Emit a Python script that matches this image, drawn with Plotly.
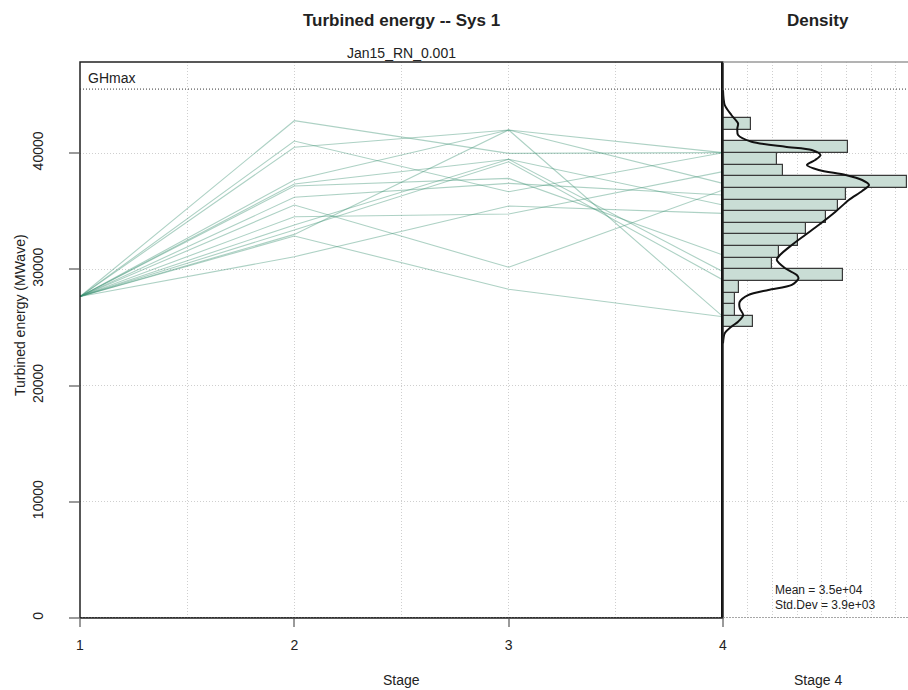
import plotly.graph_objects as go

# ---------------- data ----------------
stages = [1, 2, 3, 4]
scen_01 = [27650, 42780, 39970, 40030]
scen_02 = [27650, 41030, 36670, 40030]
scen_03 = [27650, 40490, 41980, 40030]
scen_04 = [27650, 37680, 41980, 37390]
scen_05 = [27650, 37330, 39460, 35530]
scen_06 = [27650, 37160, 37820, 31230]
scen_07 = [27650, 36190, 37390, 36390]
scen_08 = [27650, 35530, 30170, 36820]
scen_09 = [27650, 34520, 34750, 38400]
scen_10 = [27650, 33810, 39460, 29790]
scen_11 = [27650, 33380, 39250, 29080]
scen_12 = [27650, 32860, 28280, 25920]
scen_13 = [27650, 31080, 35440, 34810]
scen_14 = [27650, 33000, 41980, 25920]
scenarios = [scen_01, scen_02, scen_03, scen_04, scen_05, scen_06, scen_07,
             scen_08, scen_09, scen_10, scen_11, scen_12, scen_13, scen_14]

ghmax = 45500
ghmin = 0

# histogram of stage 4 (bin lower edges, bin width, density)
hist_lo = [25000, 26000, 27000, 28000, 29000, 30000, 31000, 32000, 33000,
           34000, 35000, 36000, 37000, 38000, 39000, 40000, 41000, 42000]
hist_width = 1000
hist_dens = [1.22, 0.48, 0.48, 0.64, 4.86, 1.97, 2.29, 3.06, 3.36,
             4.18, 4.67, 4.97, 7.44, 2.42, 2.18, 5.07, 0.0, 1.13]

# kernel density curve
dens_x = [0.0, 0.07, 0.34, 0.61, 0.58, 0.61, 1.16, 2.52, 3.60, 3.95, 3.74, 3.40,
          3.88, 4.97, 5.64, 5.92, 5.64, 5.10, 4.56, 3.88, 3.33, 2.79, 2.31, 2.18,
          2.52, 2.99, 3.06, 2.79, 1.84, 1.02, 0.68, 0.68, 0.82, 0.61, 0.34, 0.07, 0.0]
dens_y = [45400, 44130, 43270, 42550, 42120, 41550, 40970, 40540, 40260, 39830, 39400, 38970,
          38540, 38110, 37680, 37250, 36730, 35960, 34950, 33810, 32950, 32090, 31230, 30800,
          30080, 29510, 29220, 28650, 28220, 27780, 27210, 26640, 26060, 25490, 25060, 24490, 23630]

y_range = [0, 47830]
y_ticks = [0, 10000, 20000, 30000, 40000]
y_tick_labels = ["0", "10000", "20000", "30000", "40000"]
x_ticks = [1, 2, 3, 4]
x_tick_labels = ["1", "2", "3", "4"]
dens_range = [0, 7.5]

title_main = "Turbined energy -- Sys 1"
title_dens = "Density"
subtitle = "Jan15_RN_0.001"
ylab = "Turbined energy (MWave)"
xlab = "Stage"
xlab_dens = "Stage 4"
mean_txt = "Mean = 3.5e+04"
std_txt = "Std.Dev = 3.9e+03"

# ---------------- layout geometry ----------------
W, H = 908, 690
def px(x):
    return x / W
def py(y):
    return 1 - y / H

xL0, xL1 = px(80), px(723)
xR0, xR1 = px(723), 1.0
yB, yT = py(618), py(62)

FONT = "Liberation Sans, Arial, sans-serif"
line_col = "rgba(60,145,115,0.42)"
grid_col = "#cfcfcf"
GDASH = "1px,2px"

fig = go.Figure()

for s in scenarios:
    fig.add_trace(go.Scatter(x=stages, y=s, mode="lines",
                             line=dict(color=line_col, width=1.1),
                             xaxis="x", yaxis="y", showlegend=False,
                             hoverinfo="skip"))

hist_center = [lo + hist_width / 2 for lo in hist_lo]
fig.add_trace(go.Bar(x=hist_dens, y=hist_center, orientation="h",
                     width=[hist_width] * len(hist_lo), base=0,
                     marker=dict(color="#c9ddd5", line=dict(color="#3a3a3a", width=1.2)),
                     xaxis="x2", yaxis="y2", showlegend=False))

fig.add_trace(go.Scatter(x=dens_x, y=dens_y, mode="lines",
                         line=dict(color="#111111", width=2, shape="spline", smoothing=0.8),
                         xaxis="x2", yaxis="y2", showlegend=False))

fig.update_layout(
    width=W, height=H,
    margin=dict(l=0, r=0, t=0, b=0),
    paper_bgcolor="white", plot_bgcolor="white",
    font=dict(family=FONT, size=14, color="#222222"),
    bargap=0,
    xaxis=dict(domain=[xL0, xL1], range=[1, 4], tickvals=x_ticks, ticktext=x_tick_labels,
               ticks="outside", ticklen=8, tickcolor="#9a9a9a", tickwidth=2,
               ticklabelstandoff=6, automargin=False,
               showgrid=True, gridcolor=grid_col, griddash=GDASH, gridwidth=1,
               minor=dict(tickvals=[1.5, 2.5, 3.5], showgrid=True, gridcolor=grid_col,
                          griddash=GDASH, gridwidth=1, ticks=""),
               zeroline=False, showline=False, anchor="y",
               tickfont=dict(size=14, color="#222222")),
    yaxis=dict(domain=[yB, yT], range=y_range, tickvals=y_ticks, ticktext=y_tick_labels,
               ticks="outside", ticklen=10, tickcolor="#9a9a9a", tickwidth=2,
               tickangle=-90, ticklabelstandoff=20, automargin=False,
               showgrid=True, gridcolor=grid_col, griddash=GDASH, gridwidth=1,
               zeroline=False, showline=False, anchor="x",
               tickfont=dict(size=14, color="#222222")),
    xaxis2=dict(domain=[xR0, xR1], range=dens_range, dtick=1, showticklabels=False,
                ticks="", showgrid=True, gridcolor=grid_col, griddash=GDASH,
                automargin=False, zeroline=False, showline=False, anchor="y2"),
    yaxis2=dict(domain=[yB, yT], range=y_range, tickvals=y_ticks, showticklabels=False,
                ticks="", showgrid=True, gridcolor=grid_col, griddash=GDASH,
                automargin=False, zeroline=False, showline=True, linecolor="#111111",
                linewidth=2, anchor="x2"),
)

shapes = [
    # frame of left panel
    dict(type="rect", xref="paper", yref="paper", x0=xL0, x1=xL1, y0=yB, y1=yT,
         line=dict(color="#222222", width=1.5), layer="above"),
    # top border of density panel
    dict(type="line", xref="paper", yref="paper", x0=xR0, x1=xR1, y0=yT, y1=yT,
         line=dict(color="#9a9a9a", width=1.5)),
    # GHmax line across both panels
    dict(type="line", xref="paper", yref="y", x0=xL0, x1=xR1, y0=ghmax, y1=ghmax,
         line=dict(color="#333333", width=1, dash="1px,2px"), layer="above"),
    # GHmin (0) line
    dict(type="line", xref="paper", yref="y", x0=xL0, x1=xL1, y0=ghmin, y1=ghmin,
         line=dict(color="#222222", width=1.5, dash="2px,1px"), layer="above"),
    dict(type="line", xref="paper", yref="y", x0=xR0, x1=xR1, y0=ghmin, y1=ghmin,
         line=dict(color="#8a8a8a", width=1.5, dash="2px,1px"), layer="above"),
]
fig.update_layout(shapes=shapes)

ann = [
    dict(text="<b>" + title_main + "</b>", x=px(401), y=py(20), font=dict(size=17)),
    dict(text="<b>" + title_dens + "</b>", x=px(818), y=py(20), font=dict(size=17)),
    dict(text=subtitle, x=px(401), y=py(53), font=dict(size=14)),
    dict(text=xlab, x=px(401), y=py(680), font=dict(size=14)),
    dict(text=xlab_dens, x=px(818), y=py(680), font=dict(size=14)),
    dict(text=ylab, x=px(20), y=py(315), textangle=-90, font=dict(size=14)),
]
out = []
for a in ann:
    d = dict(xref="paper", yref="paper", showarrow=False, xanchor="center", yanchor="middle")
    d.update(a)
    out.append(d)
out.append(dict(text="GHmax", xref="paper", yref="y", x=px(86), y=ghmax, xanchor="left",
                yanchor="bottom", yshift=1, showarrow=False, font=dict(size=14)))
out.append(dict(text=mean_txt, xref="paper", yref="paper", x=px(773), y=py(590),
                xanchor="left", yanchor="middle", showarrow=False, font=dict(size=12)))
out.append(dict(text=std_txt, xref="paper", yref="paper", x=px(773), y=py(605),
                xanchor="left", yanchor="middle", showarrow=False, font=dict(size=12)))
fig.update_layout(annotations=out)

fig.write_html("out.html")
